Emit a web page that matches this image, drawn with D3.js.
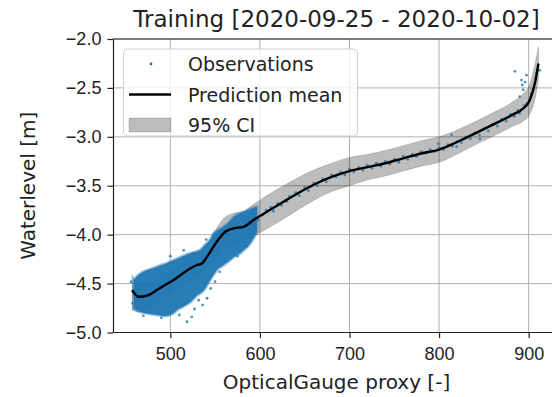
<!DOCTYPE html>
<html>
<head>
<meta charset="utf-8">
<script src="https://cdn.jsdelivr.net/npm/d3@7"></script>
<style>
  body { margin: 0; background: #fff; }
  svg { display: block; font-family: "DejaVu Sans", sans-serif; }
  .axis text { font-size: 18px; fill: #222; }
  .axis path, .axis line { stroke: #222; stroke-width: 1.2; }
</style>
</head>
<body>
<div class="graph-container"></div>
<script>
// Prediction (mean and 95% CI)
const predX = [457.3, 464.7, 475, 485, 495, 503.7, 512, 522, 530, 535.3, 540, 544.6, 552, 561.3,
               570.6, 581.7, 592.9, 607.8, 626.3, 640, 660, 680, 700, 720, 740, 760, 780, 800,
               815, 830, 856.7, 882.7, 894, 901.3, 907, 911];
const predMean = [-4.566, -4.635, -4.62, -4.566, -4.51, -4.464, -4.41, -4.345, -4.31, -4.294, -4.24,
                  -4.175, -4.07, -3.97, -3.936, -3.92, -3.85, -3.766, -3.664, -3.59, -3.49, -3.41,
                  -3.35, -3.31, -3.27, -3.22, -3.17, -3.13, -3.075, -3.01, -2.89, -2.77, -2.71,
                  -2.624, -2.45, -2.25];
const predHi = [-4.41, -4.50, -4.50, -4.45, -4.39, -4.35, -4.29, -4.23, -4.19, -4.17, -4.12, -4.05,
                -3.93, -3.82, -3.78, -3.76, -3.69, -3.60, -3.50, -3.43, -3.34, -3.27, -3.21, -3.18,
                -3.14, -3.09, -3.04, -3.00, -2.95, -2.89, -2.77, -2.64, -2.56, -2.46, -2.26, -2.08];
const predLo = [-4.77, -4.79, -4.76, -4.69, -4.63, -4.58, -4.53, -4.47, -4.43, -4.42, -4.37, -4.31,
                -4.22, -4.13, -4.10, -4.09, -4.02, -3.94, -3.84, -3.76, -3.65, -3.56, -3.50, -3.44,
                -3.40, -3.35, -3.30, -3.26, -3.20, -3.13, -3.01, -2.89, -2.84, -2.77, -2.62, -2.42];

// Dense part of the observations (envelope of the blue cloud)
const cloudX = [459.1, 466.6, 485.2, 496.3, 503.7, 507.5, 522.3, 529.8, 533.4, 537.1, 540.9, 544.6,
                548.3, 552, 559.4, 566.9, 570.6, 578, 581.7, 589.2, 596.7];
const cloudHi = [-4.464, -4.396, -4.328, -4.29, -4.26, -4.245, -4.19, -4.17, -4.157, -4.12, -4.089,
                 -4.05, -3.987, -3.96, -3.919, -3.86, -3.82, -3.78, -3.77, -3.74, -3.715];
const cloudLo = [-4.75, -4.79, -4.82, -4.83, -4.80, -4.77, -4.69, -4.62, -4.60, -4.57, -4.52, -4.46,
                 -4.41, -4.36, -4.31, -4.26, -4.23, -4.19, -4.16, -4.09, -3.97];

// Individual observations outside the dense cloud
const obsX = [560, 563, 566, 572, 575, 580, 584, 588, 590, 595, 598, 603, 607, 612, 615, 620, 624,
              630, 633, 640, 644, 650, 654, 660, 664, 670, 674, 680, 685, 690, 695, 700, 705, 710,
              715, 720, 725, 730, 735, 740, 745, 750, 755, 760, 765, 770, 775, 780, 785, 790, 795,
              800, 805, 810, 815, 820, 825, 830, 835, 840, 845, 850, 855, 860, 865, 870, 875, 880,
              884, 888, 890, 895, 898, 903, 905, 908, 910,
              884.6, 892, 894, 897.6, 890, 908.8, 912.5, 819.6, 814, 799, 845.6, 893, 896,
              518.6, 524, 531.6, 541, 527, 545, 550, 456, 458, 470, 490, 510, 555, 560, 536,
              500, 515, 540, 575, 585, 592];
const obsY = [-3.95, -4.00, -3.93, -3.96, -3.91, -3.94, -3.90, -3.86, -3.90, -3.82, -3.85, -3.80,
              -3.75, -3.72, -3.76, -3.68, -3.70, -3.66, -3.61, -3.57, -3.60, -3.52, -3.55, -3.47,
              -3.50, -3.43, -3.46, -3.39, -3.41, -3.36, -3.39, -3.33, -3.36, -3.31, -3.34, -3.29,
              -3.32, -3.27, -3.30, -3.25, -3.28, -3.23, -3.26, -3.20, -3.23, -3.18, -3.20, -3.15,
              -3.17, -3.13, -3.15, -3.11, -3.13, -3.08, -3.10, -3.05, -3.06, -3.00, -3.02, -2.96,
              -2.98, -2.92, -2.94, -2.87, -2.89, -2.82, -2.84, -2.77, -2.79, -2.73, -2.76, -2.68,
              -2.66, -2.56, -2.52, -2.40, -2.32,
              -2.33, -2.42, -2.52, -2.37, -2.59, -2.35, -2.32, -3.10, -2.98, -3.07, -3.02, -2.47,
              -2.44,
              -4.89, -4.84, -4.67, -4.65, -4.76, -4.55, -4.48, -4.48, -4.70, -4.83, -4.85, -4.82,
              -4.38, -4.28, -4.72, -4.22, -4.16, -4.05, -4.22, -4.12, -4.03];

const xTicks = [500, 600, 700, 800, 900];
const yTicks = [-5.0, -4.5, -4.0, -3.5, -3.0, -2.5, -2.0];
const legendLabels = ['Observations', 'Prediction mean', '95% CI'];

const width = 552, height = 397;
const blue = '#1f77b4';

const svg = d3.select('.graph-container')
              .append('svg')
              .attr('width', width)
              .attr('height', height);

const x = d3.scaleLinear().domain([436, 935]).range([113, 560]);
const y = d3.scaleLinear().domain([-5, -2]).range([332.5, 39]);

// Grid lines
const grid = svg.append('g').attr('class', 'grid');
grid.selectAll('.gx').data(xTicks).join('line')
    .attr('x1', d => x(d)).attr('x2', d => x(d))
    .attr('y1', y(-5)).attr('y2', y(-2))
    .attr('stroke', '#b0b0b0').attr('stroke-width', 1);
grid.selectAll('.gy').data(yTicks).join('line')
    .attr('x1', x.range()[0]).attr('x2', width)
    .attr('y1', d => y(d)).attr('y2', d => y(d))
    .attr('stroke', '#b0b0b0').attr('stroke-width', 1);

const plot = svg.append('g').attr('class', 'plot');

// 95% CI band
const pred = predX.map((v, i) => ({x: v, m: predMean[i], lo: predLo[i], hi: predHi[i]}));
plot.append('path')
    .datum(pred)
    .attr('fill', '#000')
    .attr('fill-opacity', 0.26)
    .attr('stroke', '#000')
    .attr('stroke-opacity', 0.15)
    .attr('d', d3.area()
      .curve(d3.curveMonotoneX)
      .x(d => x(d.x))
      .y0(d => y(d.lo))
      .y1(d => y(d.hi)));

// Observations: dense cloud, then single points
const cloud = cloudX.map((v, i) => ({x: v, lo: cloudLo[i], hi: cloudHi[i]}));
plot.append('path')
    .datum(cloud)
    .attr('fill', blue)
    .attr('fill-opacity', 0.95)
    .attr('stroke', blue)
    .attr('stroke-opacity', 0.45)
    .attr('stroke-width', 3)
    .attr('d', d3.area()
      .curve(d3.curveCatmullRom)
      .x(d => x(d.x))
      .y0(d => y(d.lo))
      .y1(d => y(d.hi)));

plot.selectAll('.obs')
    .data(obsX.map((v, i) => [v, obsY[i]]))
    .join('circle')
    .attr('class', 'obs')
    .attr('cx', d => x(d[0]))
    .attr('cy', d => y(d[1]))
    .attr('r', 1.4)
    .attr('fill', blue)
    .attr('fill-opacity', 0.8);

// Prediction mean
plot.append('path')
    .datum(pred)
    .attr('fill', 'none')
    .attr('stroke', '#000')
    .attr('stroke-width', 2.4)
    .attr('d', d3.line()
      .curve(d3.curveMonotoneX)
      .x(d => x(d.x))
      .y(d => y(d.m)));

// Axes
svg.append('g')
   .attr('class', 'axis x-axis')
   .attr('transform', `translate(0,${y(-5)})`)
   .call(d3.axisBottom(x).tickValues(xTicks).tickSize(5.6).tickPadding(9).tickSizeOuter(0))
   .call(g => g.select('.domain').attr('d', `M${x.range()[0]},0H${width}`));

svg.append('g')
   .attr('class', 'axis y-axis')
   .attr('transform', `translate(${x.range()[0]},0)`)
   .call(d3.axisLeft(y).tickValues(yTicks).tickFormat(d3.format('.1f'))
           .tickSize(5.6).tickPadding(6).tickSizeOuter(0));

// top spine
svg.append('line')
   .attr('x1', x.range()[0]).attr('x2', width)
   .attr('y1', y(-2)).attr('y2', y(-2))
   .attr('stroke', '#222').attr('stroke-width', 1.2);

// Titles
const cx = (x.range()[0] + x.range()[1]) / 2;
svg.append('text')
   .attr('x', cx).attr('y', 27)
   .attr('text-anchor', 'middle')
   .attr('font-size', 23).attr('fill', '#222')
   .text('Training [2020-09-25 - 2020-10-02]');

svg.append('text')
   .attr('x', cx).attr('y', 389)
   .attr('text-anchor', 'middle')
   .attr('font-size', 20).attr('fill', '#222')
   .text('OpticalGauge proxy [-]');

svg.append('text')
   .attr('transform', `translate(35,${(y(-5) + y(-2)) / 2}) rotate(-90)`)
   .attr('text-anchor', 'middle')
   .attr('font-size', 20).attr('fill', '#222')
   .text('Waterlevel [m]');

// Legend
const legend = svg.append('g').attr('class', 'legend');
legend.append('rect')
      .attr('x', 123.5).attr('y', 49)
      .attr('width', 234).attr('height', 87)
      .attr('rx', 4)
      .attr('fill', '#fff').attr('fill-opacity', 0.8)
      .attr('stroke', '#d0d0d0');

const rowY = [64, 94.5, 125];
legend.append('circle')
      .attr('cx', 151).attr('cy', rowY[0]).attr('r', 1.4)
      .attr('fill', blue);
legend.append('line')
      .attr('x1', 129).attr('x2', 171)
      .attr('y1', rowY[1]).attr('y2', rowY[1])
      .attr('stroke', '#000').attr('stroke-width', 2.4);
legend.append('rect')
      .attr('x', 129).attr('y', rowY[2] - 7)
      .attr('width', 42).attr('height', 14)
      .attr('fill', '#000').attr('fill-opacity', 0.26)
      .attr('stroke', '#000').attr('stroke-opacity', 0.15);

legend.selectAll('.legend-label')
      .data(legendLabels)
      .join('text')
      .attr('class', 'legend-label')
      .attr('x', 188)
      .attr('y', (d, i) => rowY[i] + 7)
      .attr('font-size', 19).attr('fill', '#222')
      .text(d => d);
</script>
</body>
</html>
